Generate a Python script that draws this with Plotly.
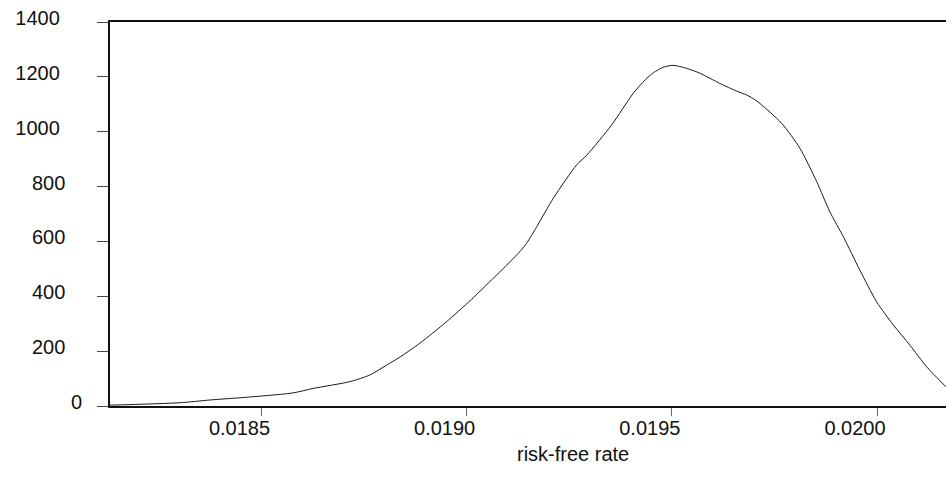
import plotly.graph_objects as go

# --- data ---
rate = [0.018131, 0.018302, 0.018375, 0.018448, 0.018513, 0.018578, 0.018626,
        0.018716, 0.018764, 0.018805, 0.018838, 0.018886, 0.018950, 0.019012,
        0.019126, 0.019146, 0.019171, 0.019211, 0.019268, 0.019293, 0.019353,
        0.019406, 0.019435, 0.019455, 0.019479, 0.019503, 0.019536, 0.019569,
        0.019617, 0.019658, 0.019682, 0.019707, 0.019768, 0.019812, 0.019853,
        0.019885, 0.019918, 0.019958, 0.019999, 0.020040, 0.020080, 0.020121,
        0.020168]
density = [3, 12, 22, 30, 38, 48, 64, 89, 113, 149, 179, 229, 306, 389,
           557, 593, 654, 757, 879, 915, 1024, 1140, 1189, 1215, 1235, 1242,
           1231, 1213, 1176, 1148, 1134, 1112, 1030, 940, 818, 708, 617, 496,
           380, 295, 222, 143, 70]

x_ticks = [0.0185, 0.0190, 0.0195, 0.0200]
x_tick_labels = ["0.0185", "0.0190", "0.0195", "0.0200"]
y_ticks = [0, 200, 400, 600, 800, 1000, 1200, 1400]
y_tick_labels = ["0", "200", "400", "600", "800", "1000", "1200", "1400"]
x_title = "risk-free rate"

NB = "\u00a0"
def pad(lbl):
    n = {1: 0, 3: 3, 4: 4}.get(len(lbl), 0)
    return lbl + NB * n

FONT = "Liberation Sans, Arial, sans-serif"

fig = go.Figure()
fig.add_trace(go.Scatter(
    x=rate, y=density, mode="lines",
    line=dict(color="#1a1a1a", width=1, shape="spline", smoothing=0.7),
    hoverinfo="skip", showlegend=False,
))

fig.update_layout(
    width=946, height=477,
    margin=dict(l=110, r=0, t=22, b=71, pad=0),
    paper_bgcolor="white", plot_bgcolor="white",
    font=dict(family=FONT, size=20, color="#111"),
    xaxis=dict(
        range=[0.0181309, 0.0201681],
        tickvals=x_ticks, ticktext=x_tick_labels,
        ticks="outside", ticklen=8, tickwidth=1, tickcolor="#666",
        showline=True, linecolor="#111", linewidth=2, mirror=True,
        showgrid=False, zeroline=False,
        ticklabelshift=-22, ticklabelstandoff=-5,
    ),
    yaxis=dict(
        range=[0, 1400],
        tickvals=y_ticks, ticktext=[pad(t) for t in y_tick_labels],
        ticks="outside", ticklen=11, tickwidth=1, tickcolor="#444",
        showline=True, linecolor="#111", linewidth=2, mirror=False,
        showgrid=False, zeroline=False,
        ticklabelshift=-4, ticklabelstandoff=11,
    ),
    annotations=[dict(
        text=x_title, xref="paper", yref="paper",
        x=(573 - 110) / 836, y=0, xanchor="center", yanchor="top",
        yshift=-35, showarrow=False,
        font=dict(family=FONT, size=20, color="#111"),
    )],
)

fig.write_html("out.html")
